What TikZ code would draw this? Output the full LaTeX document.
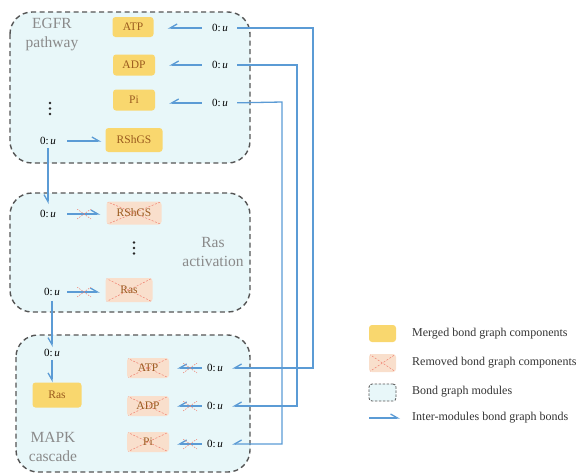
\documentclass[tikz,border=0pt]{standalone}
\usepackage{fontspec}
\setmainfont{Liberation Serif}
\usetikzlibrary{arrows.meta}
\definecolor{modfill}{HTML}{E8F7F9}
\definecolor{modline}{HTML}{555555}
\definecolor{merged}{HTML}{F9D76E}
\definecolor{removed}{HTML}{F9DFCC}
\definecolor{crossred}{HTML}{F08070}
\definecolor{boxtext}{HTML}{9A5A1E}
\definecolor{bondblue}{HTML}{5B9BD5}
\definecolor{labelgray}{HTML}{8A8A8A}
\tikzset{
  module/.style={draw=modline, line width=1.4pt, dash pattern=on 5pt off 3.5pt, fill=modfill, rounded corners=22pt},
  mergedbox/.style={fill=merged, rounded corners=3pt, text=boxtext, font=\fontsize{11.5}{12}\selectfont, inner sep=0pt},
  removedbox/.style={fill=removed, rounded corners=3pt, text=boxtext, font=\fontsize{11.5}{12}\selectfont, inner sep=0pt,
    path picture={\draw[crossred, line width=0.5pt, dash pattern=on 2pt off 1.5pt]
      (path picture bounding box.north west) -- (path picture bounding box.south east)
      (path picture bounding box.south west) -- (path picture bounding box.north east);}},
  zerou/.style={font=\fontsize{11}{12}\selectfont, inner sep=0pt},
  modlabel/.style={text=labelgray, font=\fontsize{15.5}{19}\selectfont, align=center, inner sep=0pt},
  legtext/.style={anchor=west, font=\fontsize{12}{14}\selectfont, text=black!80, inner sep=0pt},
  bondL/.style={draw=bondblue, line width=1.3pt, -{Straight Barb[left,length=7pt,width=8pt]}},
  bondR/.style={draw=bondblue, line width=1.3pt, -{Straight Barb[right,length=7pt,width=8pt]}},
  dot/.style={circle, fill=black!85, inner sep=0pt, minimum size=2.6pt},
  crossmark/.style={minimum width=14pt, minimum height=10pt, inner sep=0pt,
    path picture={\draw[crossred, line width=0.5pt, dash pattern=on 1.5pt off 1.2pt]
      (path picture bounding box.north west) -- (path picture bounding box.south east)
      (path picture bounding box.south west) -- (path picture bounding box.north east);}},
}
\newcommand{\zu}{0:\,\textit{u}}
\begin{document}
\begin{tikzpicture}[x=1pt,y=-1pt]
\useasboundingbox (0,0) rectangle (577,475);
% modules
\path[module] (10,12) rectangle (250,163);
\path[module] (10,193) rectangle (250,312);
\path[module] (16,335) rectangle (250,472);

% EGFR pathway
\node[modlabel] (egfrlab) at (52,35) {EGFR\\pathway};
\node[mergedbox, minimum width=41pt, minimum height=20pt] (atp1) at (133,27) {ATP};
\node[mergedbox, minimum width=42pt, minimum height=21pt] (adp1) at (134,65) {ADP};
\node[mergedbox, minimum width=42pt, minimum height=21pt] (pi1) at (134,100) {Pi};
\node[mergedbox, minimum width=57pt, minimum height=24pt] (rsh1) at (134,140) {RShGS};
\node[zerou] (ua) at (220,28) {\zu};
\node[zerou] (ub) at (220,65) {\zu};
\node[zerou] (uc) at (220,103) {\zu};
\node[zerou] (ud) at (48,141) {\zu};
\node[dot] (d1a) at (50,103) {};
\node[dot] (d1b) at (50,108.5) {};
\node[dot] (d1c) at (50,114) {};
\draw[bondR, shorten <=10pt, shorten >=14pt] (ua.west) -- (ua.west -| atp1.east);
\draw[bondR, shorten <=10pt, shorten >=14pt] (ub.west) -- (ub.west -| adp1.east);
\draw[bondR, shorten <=10pt, shorten >=14pt] (uc.west) -- (uc.west -| pi1.east);
\draw[bondL, shorten <=11pt, shorten >=4pt] (ud.east) -- (ud.east -| rsh1.west);

% Ras activation
\node[modlabel] (raslab) at (213,252) {Ras\\activation};
\node[zerou] (ue) at (48,214) {\zu};
\node[removedbox, minimum width=55pt, minimum height=23pt] (rsh2) at (134,213) {RShGS};
\node[dot] (d2a) at (134,242.5) {};
\node[dot] (d2b) at (134,248) {};
\node[dot] (d2c) at (134,253.5) {};
\node[zerou] (uf) at (52,292) {\zu};
\node[removedbox, minimum width=47pt, minimum height=24pt] (ras2) at (129,290) {Ras};
\draw[bondL, shorten <=11pt, shorten >=6pt] (ue.east) -- (ue.east -| rsh2.west);
\draw[bondL, shorten <=7pt, shorten >=5.5pt] (uf.east) -- (uf.east -| ras2.west);
\node[crossmark] (x1) at (84,214) {};
\node[crossmark] (x2) at (84,292) {};

% MAPK cascade
\node[modlabel] (mapklab) at (53,447) {MAPK\\cascade};
\node[zerou] (ug) at (52,353) {\zu};
\node[mergedbox, minimum width=49pt, minimum height=25pt] (ras3) at (57,395) {Ras};
\node[removedbox, minimum width=42pt, minimum height=20pt] (atp3) at (148,368) {ATP};
\node[removedbox, minimum width=42pt, minimum height=20pt] (adp3) at (148,406) {ADP};
\node[removedbox, minimum width=42pt, minimum height=20pt] (pi3) at (148,442) {Pi};
\node[zerou] (uh) at (215,368) {\zu};
\node[zerou] (ui) at (215,406) {\zu};
\node[zerou] (uj) at (215,444) {\zu};
\draw[bondR, shorten <=5pt, shorten >=8pt] (uh.west) -- (uh.west -| atp3.east);
\draw[bondR, shorten <=5pt, shorten >=8pt] (ui.west) -- (ui.west -| adp3.east);
\draw[bondR, shorten <=5pt, shorten >=8pt] (uj.west) -- (uj.west -| pi3.east);
\node[crossmark] (x3) at (190,368) {};
\node[crossmark] (x4) at (190,406) {};
\node[crossmark] (x5) at (190,444) {};
\draw[bondR, shorten <=3pt, shorten >=0pt] (ug.south) -- (ug.south |- ras3.north);

% vertical inter-module bonds
\draw[bondR, shorten <=3pt, shorten >=6pt] (ud.south) -- (ud.south |- ue.north);
\draw[bondR, shorten <=5pt, shorten >=2pt] (uf.south) -- (uf.south |- ug.north);

% long inter-module bonds
\coordinate (ca) at (313,28);
\coordinate (cb) at (297,65);
\coordinate (cc) at (282,102);
\draw[bondR, shorten <=9pt, shorten >=9pt] (ua.east) -- (ca) |- (uh.east);
\draw[bondR, shorten <=9pt, shorten >=9pt] (ub.east) -- (cb) |- (ui.east);
\draw[bondR, shorten <=9pt, shorten >=9pt] (uc.east) -- (cc) |- (uj.east);

% legend
\node[fill=merged, rounded corners=3pt, minimum width=27pt, minimum height=17pt, inner sep=0pt] (lg1) at (382.5,333.5) {};
\node[fill=removed, rounded corners=3pt, minimum width=27pt, minimum height=18pt, inner sep=0pt,
  path picture={\draw[crossred, line width=0.5pt, dash pattern=on 2pt off 1.5pt]
      (path picture bounding box.north west) -- (path picture bounding box.south east)
      (path picture bounding box.south west) -- (path picture bounding box.north east);}] (lg2) at (382.5,363) {};
\node[draw=modline, line width=0.8pt, dash pattern=on 2.5pt off 1.5pt, fill=modfill, rounded corners=3pt, minimum width=27pt, minimum height=17pt, inner sep=0pt] (lg3) at (382.5,392.5) {};
\coordinate (lg4a) at (369,418);
\coordinate (lg4b) at (400,418);
\draw[bondL] (lg4a) -- (lg4b);
\node[legtext] (lt1) at (412,334) {Merged bond graph components};
\node[legtext] (lt2) at (412,363) {Removed bond graph components};
\node[legtext] (lt3) at (412,392) {Bond graph modules};
\node[legtext] (lt4) at (412,418) {Inter-modules bond graph bonds};
\end{tikzpicture}
\end{document}
